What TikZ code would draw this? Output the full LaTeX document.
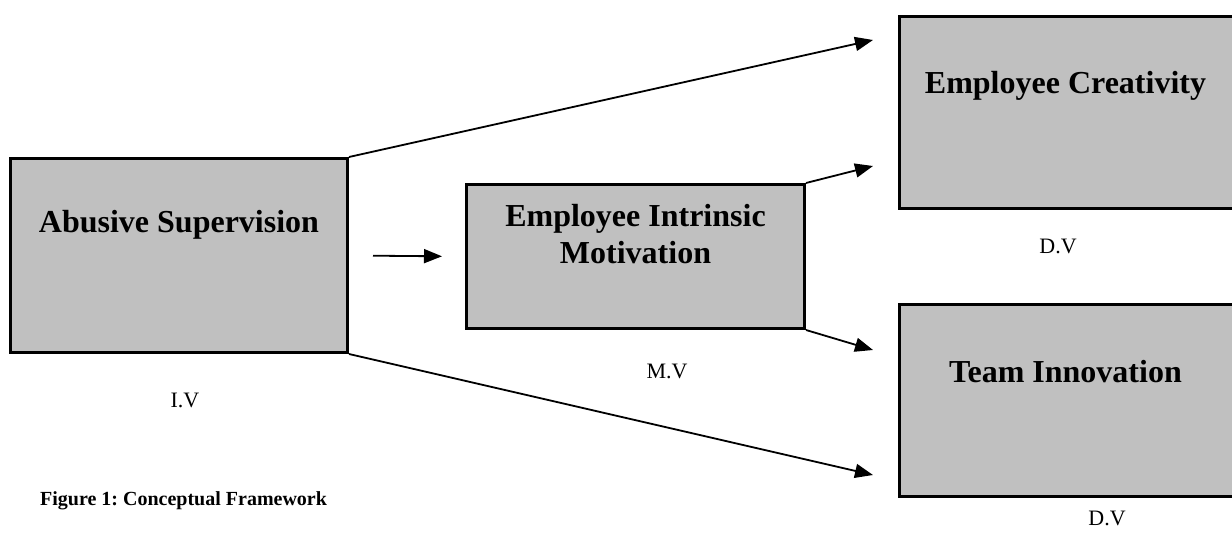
\documentclass[tikz,border=0pt]{standalone}
\usepackage{fontspec}
\setmainfont{Liberation Serif}
\usetikzlibrary{arrows.meta,positioning,calc}
\definecolor{boxgray}{RGB}{192,192,192}
\frenchspacing
\tikzset{
	varbox/.style={draw=black, fill=boxgray, line width=3pt, inner sep=0pt, anchor=north west},
	boxtext/.style={font=\fontsize{32}{37}\selectfont\bfseries, align=center, inner sep=0pt},
	vartag/.style={font=\fontsize{22}{26}\selectfont, inner sep=0pt, anchor=base},
	link/.style={line width=1.8pt, -{Triangle[length=18pt,width=14pt]}}
}

\begin{document}
\begin{tikzpicture}[x=1pt,y=-1pt]
		%%%%% START %%%%%
		\useasboundingbox (0,0) rectangle (1232,543);
		
		% boxes
		\node[varbox, minimum width=337, minimum height=194] (as) at (9,157) {};
		\node[varbox, minimum width=338, minimum height=144] (im) at (465,183) {};
		\node[varbox, minimum width=336, minimum height=192] (ec) at (898,15) {};
		\node[varbox, minimum width=336, minimum height=192] (ti) at (898,303) {};
		
		% box texts
		\node[boxtext, anchor=base] (astext) at ($(as.north)+(0,75)$) {Abusive Supervision};
		\node[boxtext, anchor=north] (imtext) at ($(im.north)+(0,21)$) {Employee Intrinsic\\Motivation};
		\node[boxtext, anchor=base] (ectext) at ($(ec.north)+(-2,78)$) {Employee Creativity};
		\node[boxtext, anchor=base] (titext) at ($(ti.north)+(-2,79)$) {Team Innovation};
		
		% variable tags
		\node[vartag] (ivtag) at (185,407) {I.V};
		\node[vartag] (mvtag) at (667,378) {M.V};
		\node[vartag] (dvtaga) at (1058,253) {D.V};
		\node[vartag] (dvtagb) at (1107,525) {D.V};
		
		% arrow ends
		\coordinate (ecin1) at ($(ec.north west)+(-25,25)$);
		\coordinate (ecin2) at ($(ec.south west)+(-25,-44)$);
		\coordinate (tiin1) at ($(ti.north west)+(-25,47)$);
		\coordinate (tiin2) at ($(ti.south west)+(-25,-23)$);
		
		\draw[link, shorten <=24pt, shorten >=23pt] (as.east) -- (im.west);
		\draw[link] (as.north east) -- (ecin1);
		\draw[link] (im.north east) -- (ecin2);
		\draw[link] (im.south east) -- (tiin1);
		\draw[link] (as.south east) -- (tiin2);
		
		\node[font=\fontsize{20}{24}\selectfont\bfseries, anchor=base west, inner sep=0pt] (caption) at (40,505) {Figure 1: Conceptual Framework};
		
		%%%%% END %%%%%
\end{tikzpicture}
\end{document}
